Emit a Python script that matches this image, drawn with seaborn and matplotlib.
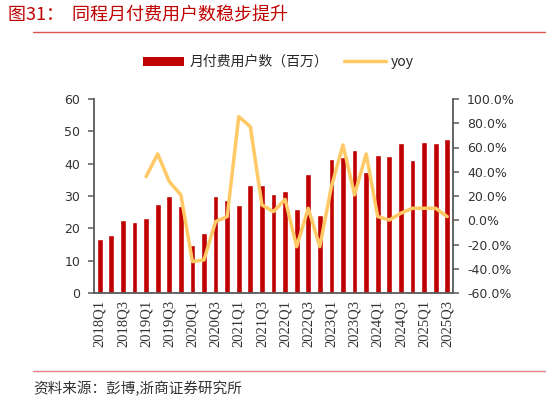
import numpy as np
import pandas as pd
import matplotlib
matplotlib.use("Agg")
import matplotlib.pyplot as plt
from matplotlib.lines import Line2D
from matplotlib.patches import Patch
import seaborn as sns

quarters = [f"{y}Q{q}" for y in range(2018, 2026) for q in range(1, 5)][:31]
users = [16.8, 18.0, 22.5, 22.1, 23.1, 27.6, 29.9, 27.0, 14.7, 18.6, 29.9, 28.8,
         27.3, 33.5, 33.5, 30.7, 31.6, 26.1, 36.8, 24.2, 41.5, 42.2, 44.2, 37.3,
         42.7, 42.5, 46.3, 41.0, 46.6, 46.3, 47.7]
yoy = [np.nan, np.nan, np.nan, np.nan, 36.0, 54.7, 31.9, 20.9, -34.1, -32.7, -1.1, 3.0,
       85.4, 77.2, 12.6, 7.1, 17.3, -21.8, 9.9, -21.8, 27.7, 62.1, 20.9, 54.7,
       3.0, 0.2, 5.8, 9.9, 9.9, 9.9, 3.0]
bar_label = "月付费用户数（百万）"
line_label = "yoy"
title = "图31：  同程月付费用户数稳步提升"
source = "资料来源：彭博,浙商证券研究所"

sns.set_theme(style="white")
plt.rcParams['font.family'] = ['Noto Sans CJK SC', 'DejaVu Sans']

RED = "#C00000"
YEL = "#FFC966"
GRAY = "#595959"

fig = plt.figure(figsize=(5.48, 4.03), dpi=100)
ax = fig.add_axes([94/548, 110/403, (453-94)/548, (293-99)/403])
df = pd.DataFrame({"q": quarters, "users": users, "yoy": yoy})
sns.barplot(data=df, x="q", y="users", ax=ax, color=RED, width=0.5, saturation=1)
ax.set_xlim(-0.5, len(quarters) - 0.5)
ax.set_ylim(0, 60)
ax.set_yticks(range(0, 61, 10))
ax.set_xlabel("")
ax.set_ylabel("")

ax2 = ax.twinx()
df["pos"] = np.arange(len(quarters))
sns.lineplot(data=df, x="pos", y="yoy", ax=ax2, color=YEL, linewidth=2.5)
ax2.set_ylim(-60, 100)
ax2.set_yticks(range(-60, 101, 20))
ax2.set_yticklabels([f"{v:.1f}%" for v in range(-60, 101, 20)])
ax2.set_xlim(-0.5, len(quarters) - 0.5)
ax2.set_ylabel("")
ax2.set_xlabel("")

for a in (ax, ax2):
    for s in a.spines.values():
        s.set_visible(False)
ax.spines['left'].set_visible(True)
ax.spines['bottom'].set_visible(True)
ax2.spines['right'].set_visible(True)
for s in (ax.spines['left'], ax.spines['bottom'], ax2.spines['right']):
    s.set_color(GRAY)
    s.set_linewidth(1.3)

ax.set_xticks(np.arange(0, len(quarters), 2))
ax.set_xticklabels(quarters[::2], rotation=90, family=['Liberation Serif'], fontsize=10.5, color="#333333")
ax.set_xticks(np.arange(-0.5, len(quarters), 1), minor=True)
ax.tick_params(axis='x', which='major', length=0, pad=5)
ax.tick_params(axis='x', which='minor', length=4, width=1.1, color=GRAY, direction='out')
ax.tick_params(axis='y', length=4, width=1.1, color=GRAY, direction='out', labelsize=9, labelcolor="#333333", pad=6)
ax2.tick_params(axis='y', length=4, width=1.1, color=GRAY, direction='out', labelsize=9, labelcolor="#333333", pad=6)
for lab in ax.get_yticklabels() + ax2.get_yticklabels():
    lab.set_family(['DejaVu Sans'])
ax.grid(False)
ax2.grid(False)

handles = [Patch(facecolor=RED, edgecolor='none'), Line2D([], [], color=YEL, linewidth=2.5)]
fig.legend(handles, [bar_label, line_label], loc='center', bbox_to_anchor=(0.508, 0.846),
           ncol=2, frameon=False, fontsize=10, handlelength=3.0, handleheight=0.6,
           columnspacing=1.1, handletextpad=0.4)

fig.text(8/548, 1 - 15/403, title, color=RED, fontsize=13, va='center', ha='left')
fig.add_artist(Line2D([33/548, 545/548], [1 - 32/403, 1 - 32/403], color="#D9534F", linewidth=1.0))
fig.add_artist(Line2D([33/548, 545/548], [1 - 371/403, 1 - 371/403], color="#E88080", linewidth=1.0))
fig.text(33/548, 1 - 389/403, source, color="#333333", fontsize=10.5, va='center', ha='left')

fig.savefig("out.png", dpi=100)
